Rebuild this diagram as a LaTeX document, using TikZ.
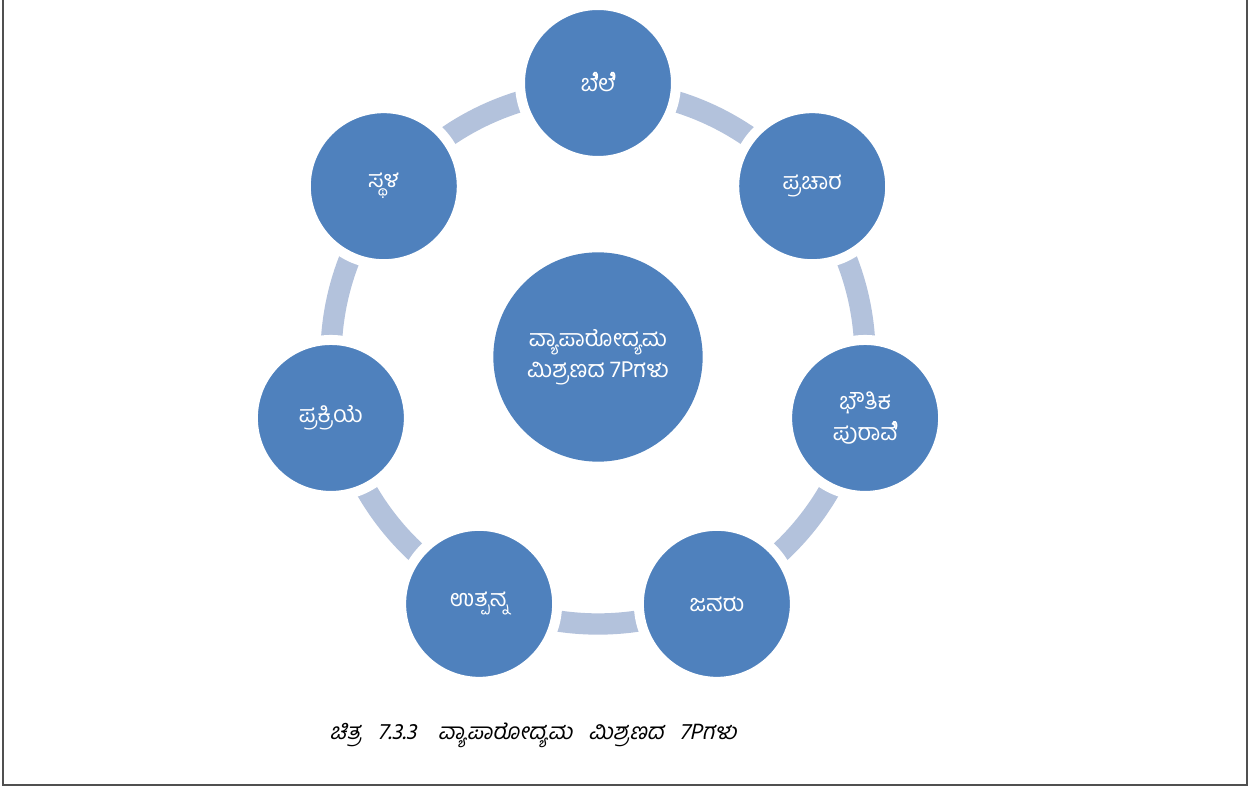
\documentclass[tikz,border=0pt]{standalone}
\usepackage{fontspec}
\usetikzlibrary{calc}
\newfontfamily\kn[Script=Kannada]{Hind Mysuru}
\newfontfamily\knit[Script=Kannada,FakeSlant=0.22]{Hind Mysuru}
\definecolor{cblue}{HTML}{4F81BD}
\definecolor{cring}{HTML}{B3C2DC}
\definecolor{cframe}{HTML}{505050}
% hook of the vowel sign e, which this font leaves out after some letters
\newcommand{\ehook}{\tikz[overlay,baseline=0pt,x=1em,y=1em]\draw[white,line width=0.075em,line cap=round]
  (-0.07,0.50) .. controls (0.0,0.68) and (-0.06,0.84) .. (-0.15,0.80) .. controls (-0.21,0.77) and (-0.2,0.7) .. (-0.15,0.68);}
\begin{document}
\begin{tikzpicture}[x=0.75pt,y=-0.75pt,
  sat/.style={circle,fill=cblue,draw=white,line width=7.5pt,minimum size=117pt,inner sep=0pt,
    text=white,font=\kn\fontsize{17.5}{23.5}\selectfont,align=center},
  hub/.style={circle,fill=cblue,minimum size=157pt,inner sep=0pt,
    text=white,font=\kn\fontsize{17.5}{23.5}\selectfont,align=center},
  ringline/.style={draw=cring,line width=16pt},
  framel/.style={draw=cframe,line width=1.5pt},
  captext/.style={font=\knit\fontsize{17}{20}\selectfont,text=black}]
\useasboundingbox (0,0) rectangle (1254,787);
\coordinate (f1) at (3,-5);
\coordinate (f2) at (3,785);
\coordinate (f3) at (1247,785);
\coordinate (f4) at (1247,-5);
\draw[framel] (f1) -- (f2) -- (f3) -- (f4);
\coordinate (o) at (598,357);
\draw[ringline] (o) circle (267);
\node[hub] (c) at (o) {ವ್ಯಾಪಾರೋದ್ಯಮ\\ಮಿಶ್ರಣದ 7Pಗಳು};
\node[sat] (p1) at ($(o)+(-90:274)$) {ಬೆ\ehook ಲೆ\ehook};
\node[sat] (p2) at ($(o)+(-38.571:274)$) {ಪ್ರಚಾರ};
\node[sat] (p3) at ($(o)+(12.857:274)$) {ಭೌತಿಕ\\ಪುರಾವೆ\ehook};
\node[sat] (p4) at ($(o)+(64.286:274)$) {ಜನರು};
\node[sat] (p5) at ($(o)+(115.714:274)$) {ಉತ್ಪನ್ನ};
\node[sat] (p6) at ($(o)+(167.143:274)$) {ಪ್ರಕ್ರಿಯೆ};
\node[sat] (p7) at ($(o)+(-141.429:274)$) {ಸ್ಥಳ};
\node[captext] (t) at (533,735) {ಚಿತ್ರ\hspace{12pt}7.3.3\hspace{16pt}ವ್ಯಾಪಾರೋದ್ಯಮ\hspace{12pt}ಮಿಶ್ರಣದ\hspace{12pt}7Pಗಳು};
\end{tikzpicture}
\end{document}
